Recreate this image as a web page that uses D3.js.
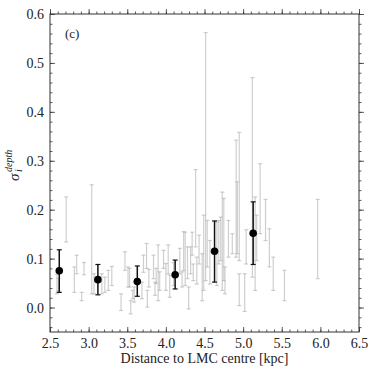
<!DOCTYPE html>
<html>
<head>
<meta charset="utf-8">
<script src="https://cdn.jsdelivr.net/npm/d3@7"></script>
<style>
  body { margin: 0; background: #fff; }
  text { font-family: "Liberation Serif", "DejaVu Serif", serif; fill: #222; }
</style>
</head>
<body>
<svg id="mysvg" width="374" height="373"></svg>
<script>
// binned means (black points)
var binX = [2.62, 3.12, 3.63, 4.12, 4.63, 5.13];
var binY = [0.075, 0.057, 0.053, 0.067, 0.115, 0.152];
var binLo = [0.031, 0.026, 0.023, 0.038, 0.052, 0.088];
var binHi = [0.118, 0.088, 0.085, 0.097, 0.177, 0.216];

// individual fields (grey error bars): distance, lower, upper
var fieldX = [2.59, 2.61, 2.71, 2.815, 2.845, 2.91, 2.94, 3.04, 3.07, 3.17, 3.21, 3.255, 3.30,
  3.42, 3.47, 3.51, 3.53, 3.545, 3.57, 3.59, 3.69, 3.71, 3.75, 3.76, 3.78, 3.84, 3.86, 3.875,
  3.90, 3.92, 3.97, 4.00, 4.03, 4.05, 4.10, 4.18, 4.21, 4.23, 4.25, 4.28, 4.295, 4.32, 4.34,
  4.355, 4.385, 4.40, 4.43, 4.47, 4.49, 4.515, 4.535, 4.57, 4.66, 4.685, 4.71, 4.73, 4.75,
  4.765, 4.81, 4.86, 4.91, 4.925, 4.95, 4.95, 5.02, 5.04, 5.12, 5.155, 5.175, 5.22, 5.29,
  5.34, 5.39, 5.535, 5.965];
var fieldLo = [0.028, 0.034, 0.134, 0.031, 0.069, 0.014, 0.067, 0.028, 0.028, 0.028, 0.031, 0.035, 0.045,
  -0.006, 0.076, 0.042, 0.042, -0.013, 0.018, 0.011, 0.018, 0.072, 0.080, 0.001, 0.042, 0.059, 0.025, 0.049,
  0.014, 0.035, 0.080, 0.035, 0.069, 0.021, 0.045, 0.069, 0.042, 0.076, 0.045, 0.059, -0.003, 0.069, 0.107,
  0.055, 0.124, 0.048, 0.089, 0.014, 0.035, 0.055, 0.083, 0.048, 0.045, 0.089, 0.096, 0.035, 0.055,
  0.028, 0.103, 0.110, 0.103, 0.110, 0.096, 0.004, -0.008, 0.089, 0.062, 0.035, 0.096, 0.151, 0.137,
  0.083, 0.035, 0.014, 0.059];
var fieldHi = [0.068, 0.060, 0.226, 0.083, 0.107, 0.031, 0.092, 0.251, 0.069, 0.069, 0.062, 0.076, 0.084,
  0.028, 0.114, 0.083, 0.080, 0.014, 0.035, 0.042, 0.052, 0.107, 0.131, 0.035, 0.078, 0.107, 0.052, 0.080,
  0.128, 0.073, 0.117, 0.090, 0.128, 0.066, 0.092, 0.121, 0.073, 0.155, 0.154, 0.124, 0.042, 0.124, 0.154,
  0.089, 0.282, 0.103, 0.148, 0.110, 0.189, 0.562, 0.178, 0.137, 0.175, 0.178, 0.185, 0.236, 0.223,
  0.083, 0.178, 0.151, 0.342, 0.257, 0.358, 0.069, 0.069, 0.159, 0.470, 0.226, 0.189, 0.294, 0.221,
  0.161, 0.103, 0.076, 0.221];

var xTicks = [2.5, 3.0, 3.5, 4.0, 4.5, 5.0, 5.5, 6.0, 6.5];
var yTicks = [0.0, 0.1, 0.2, 0.3, 0.4, 0.5, 0.6];

var margin = { top: 14, right: 15, bottom: 41, left: 50 };
var W = 374, H = 373;
var w = W - margin.left - margin.right;
var h = H - margin.top - margin.bottom;

var svg = d3.select("#mysvg");
var g = svg.append("g").attr("transform", "translate(" + margin.left + "," + margin.top + ")");

var xScale = d3.scaleLinear().domain([2.5, 6.5]).range([0, w]);
var yScale = d3.scaleLinear().domain([-0.05, 0.6]).range([h, 0]);

var minorX = d3.range(25, 66).map(function (d) { return d / 10; });
var minorY = d3.range(-2, 31).map(function (d) { return d / 50; });

// ticks on all four sides, pointing in
function tickAxis(axis, scale, vals, size, transform, labels) {
  var a = g.append("g").attr("transform", transform)
    .call(axis(scale).tickValues(vals).tickSizeInner(-size).tickSizeOuter(0).tickPadding(labels ? 6 : 0)
      .tickFormat(labels ? d3.format(".1f") : ""));
  a.select(".domain").remove();
  a.selectAll("line").attr("stroke", "#333").attr("stroke-width", 0.8);
  a.selectAll("text").style("font-size", "14px").attr("fill", "#222");
  return a;
}
tickAxis(d3.axisBottom, xScale, minorX, 2.5, "translate(0," + h + ")", false);
tickAxis(d3.axisBottom, xScale, xTicks, 5, "translate(0," + h + ")", true);
tickAxis(d3.axisTop, xScale, minorX, -2.5, "translate(0,0)", false);
tickAxis(d3.axisTop, xScale, xTicks, -5, "translate(0,0)", false);
tickAxis(d3.axisLeft, yScale, minorY, 2.5, "translate(0,0)", false);
tickAxis(d3.axisLeft, yScale, yTicks, 5, "translate(0,0)", true);
tickAxis(d3.axisRight, yScale, minorY, -2.5, "translate(" + w + ",0)", false);
tickAxis(d3.axisRight, yScale, yTicks, -5, "translate(" + w + ",0)", false);

// grey bars
var fields = fieldX.map(function (x, i) { return { x: x, lo: fieldLo[i], hi: fieldHi[i] }; });
var fg = g.append("g").attr("stroke", "#a8a8a8").attr("stroke-opacity", 0.55).attr("stroke-width", 1.2);
fields.forEach(function (d) {
  var px = xScale(d.x);
  fg.append("line").attr("x1", px).attr("x2", px).attr("y1", yScale(d.lo)).attr("y2", yScale(d.hi));
  fg.append("line").attr("x1", px - 2).attr("x2", px + 2).attr("y1", yScale(d.lo)).attr("y2", yScale(d.lo));
  fg.append("line").attr("x1", px - 2).attr("x2", px + 2).attr("y1", yScale(d.hi)).attr("y2", yScale(d.hi));
});

// binned black points
var bins = binX.map(function (x, i) { return { x: x, y: binY[i], lo: binLo[i], hi: binHi[i] }; });
var bg = g.append("g").selectAll("g").data(bins).enter().append("g");
bg.append("line").attr("x1", function (d) { return xScale(d.x); }).attr("x2", function (d) { return xScale(d.x); })
  .attr("y1", function (d) { return yScale(d.lo); }).attr("y2", function (d) { return yScale(d.hi); })
  .attr("stroke", "#111").attr("stroke-width", 1.5);
["lo", "hi"].forEach(function (k) {
  bg.append("line").attr("x1", function (d) { return xScale(d.x) - 2.5; }).attr("x2", function (d) { return xScale(d.x) + 2.5; })
    .attr("y1", function (d) { return yScale(d[k]); }).attr("y2", function (d) { return yScale(d[k]); })
    .attr("stroke", "#111").attr("stroke-width", 1.2);
});
bg.append("circle").attr("cx", function (d) { return xScale(d.x); }).attr("cy", function (d) { return yScale(d.y); })
  .attr("r", 3.8).attr("fill", "#000");

// frame
g.append("rect").attr("width", w).attr("height", h).attr("fill", "none").attr("stroke", "#333").attr("stroke-width", 1);

g.append("text").attr("x", 15).attr("y", 24).style("font-size", "13px").text("(c)");

svg.append("text").attr("x", margin.left + w / 2).attr("y", 363).attr("text-anchor", "middle")
  .style("font-size", "14px").text("Distance to LMC centre [kpc]");

// y label sigma_i^depth
var yl = svg.append("g").attr("transform", "translate(19,181) rotate(-90)");
yl.append("text").attr("x", 0).attr("y", 0).style("font-size", "15px").style("font-style", "italic").text("σ");
yl.append("text").attr("x", 9).attr("y", -7).style("font-size", "10px").style("font-style", "italic").text("depth");
yl.append("text").attr("x", 9).attr("y", 3).style("font-size", "10px").style("font-style", "italic").text("i");
</script>
</body>
</html>
